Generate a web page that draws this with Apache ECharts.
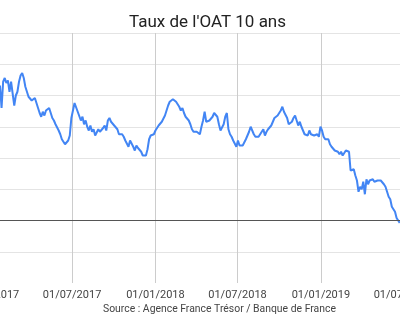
<!DOCTYPE html>
<html><head><meta charset="utf-8">
<script src="https://cdn.jsdelivr.net/npm/echarts@6/dist/echarts.min.js"></script>
<style>html,body{margin:0;padding:0;background:#fff}#c{width:400px;height:320px}</style>
</head><body><div id="c"></div>
<script>
const titleText = "Taux de l'OAT 10 ans";
const sourceText = "Source : Agence France Trésor / Banque de France";
const firstDate = [2017, 1, 23];   // first observation (y, m, d)
const stepDays = 3.5;              // observations twice a week
const axisStart = [2017, 1, 1];
const axisEnd = [2019, 8, 1];
const yMin = -0.5, yMax = 1.5, yStep = 0.25;

const rates2017 = [
1.08, 0.90, 1.11, 1.14, 1.10, 1.12, 1.03, 1.11, 1.10, 0.92, 1.00, 1.03, 1.11, 1.16, 1.18, 1.14, 1.07, 1.03, 0.99, 0.98, 0.96, 0.97,
0.98, 0.94, 0.90, 0.86, 0.83, 0.87, 0.84, 0.88, 0.87, 0.90, 0.86, 0.82, 0.80, 0.77, 0.76, 0.72, 0.69, 0.65, 0.63, 0.61, 0.61, 0.64,
0.68, 0.82, 0.83, 0.94, 0.95, 0.87, 0.86, 0.80, 0.83, 0.77, 0.80, 0.75, 0.72, 0.76, 0.71, 0.73, 0.68, 0.69, 0.73, 0.71, 0.72, 0.74,
0.76, 0.72, 0.80, 0.82, 0.79, 0.80, 0.76, 0.75, 0.73, 0.69, 0.68, 0.69, 0.67, 0.64, 0.63, 0.59, 0.64, 0.64, 0.59, 0.56, 0.60, 0.58,
0.57, 0.55, 0.52, 0.53, 0.52, 0.57, 0.65, 0.68, 0.67, 0.69
];
const rates2018 = [
0.72, 0.73, 0.76, 0.75, 0.79, 0.80, 0.84, 0.88, 0.92, 0.95, 0.96, 0.97,
0.98, 0.95, 0.94, 0.91, 0.88, 0.90, 0.86, 0.83, 0.84, 0.80, 0.77, 0.73, 0.71, 0.71, 0.71, 0.72, 0.69, 0.75, 0.80, 0.87, 0.79, 0.80,
0.80, 0.80, 0.83, 0.86, 0.86, 0.83, 0.77, 0.72, 0.73, 0.77, 0.83, 0.86, 0.73, 0.69, 0.67, 0.64, 0.65, 0.59, 0.64, 0.60, 0.59, 0.60,
0.61, 0.65, 0.65, 0.71, 0.75, 0.72, 0.69, 0.67, 0.68, 0.67, 0.69, 0.71, 0.73, 0.68, 0.71, 0.73, 0.72, 0.76, 0.79, 0.82, 0.83, 0.84,
0.86, 0.88, 0.91, 0.87, 0.86, 0.82, 0.77, 0.76, 0.79, 0.82, 0.84, 0.80, 0.76, 0.79, 0.75, 0.72, 0.69, 0.68, 0.68, 0.72, 0.69, 0.69,
0.68, 0.68, 0.69, 0.67, 0.75
];
const rates2019 = [
0.72, 0.67, 0.65, 0.64, 0.65, 0.61, 0.59, 0.60, 0.56, 0.57, 0.55, 0.53, 0.55, 0.52, 0.51, 0.56, 0.56,
0.55, 0.40, 0.39, 0.41, 0.36, 0.32, 0.23, 0.27, 0.25, 0.31, 0.21, 0.33, 0.29, 0.32, 0.31, 0.33, 0.31, 0.32, 0.32, 0.31, 0.32, 0.31,
0.29, 0.27, 0.23, 0.19, 0.17, 0.11, 0.11, 0.07, 0.02, 0.01, -0.02
];

const DAY = 86400000;
const toTime = a => new Date(a[0], a[1] - 1, a[2]).getTime();
const t0 = toTime(firstDate);
const rates = rates2017.concat(rates2018, rates2019);
const seriesData = rates.map((v, i) => [t0 + i * stepDays * DAY, v]);
const pad = n => (n < 10 ? '0' : '') + n;

const chart = echarts.init(document.getElementById('c'), null, {renderer: 'canvas'});
chart.setOption({
  animation: false,
  backgroundColor: '#ffffff',
  textStyle: {fontFamily: 'Roboto'},
  title: {
    text: titleText, left: 124, top: 9,
    textStyle: {fontFamily: 'Roboto', fontSize: 17, fontWeight: 'normal', color: '#222'}
  },
  graphic: [{
    type: 'text', left: 103, top: 304,
    style: {text: sourceText, fontFamily: 'Roboto', fontSize: 10.4, fill: '#444'}
  }],
  grid: {left: -10, right: -17, top: 33, height: 250, containLabel: false, outerBoundsMode: 'none'},
  xAxis: {
    type: 'time',
    min: toTime(axisStart), max: toTime(axisEnd),
    splitNumber: 5,
    axisLine: {show: false, onZero: false},
    axisTick: {show: false},
    splitLine: {show: true, lineStyle: {color: '#cccccc', width: 1}},
    axisLabel: {
      showMinLabel: true, showMaxLabel: false, hideOverlap: false,
      margin: 7, fontFamily: 'Roboto', fontSize: 11, color: '#444',
      formatter: v => { const d = new Date(v); return pad(d.getDate()) + '/' + pad(d.getMonth() + 1) + '/' + d.getFullYear(); }
    }
  },
  yAxis: {
    type: 'value', min: yMin, max: yMax, interval: yStep,
    axisLine: {show: false}, axisTick: {show: false}, axisLabel: {show: false},
    splitLine: {show: true, showMinLine: false, lineStyle: {color: '#e4e4e4', width: 1}}
  },
  series: [{
    type: 'line',
    data: seriesData,
    showSymbol: false,
    lineStyle: {color: '#4285f4', width: 2},
    itemStyle: {color: '#4285f4'},
    markLine: {
      silent: true, symbol: 'none', label: {show: false},
      lineStyle: {color: '#555', width: 1, type: 'solid'},
      data: [{yAxis: 0}]
    }
  }]
});
</script></body></html>
